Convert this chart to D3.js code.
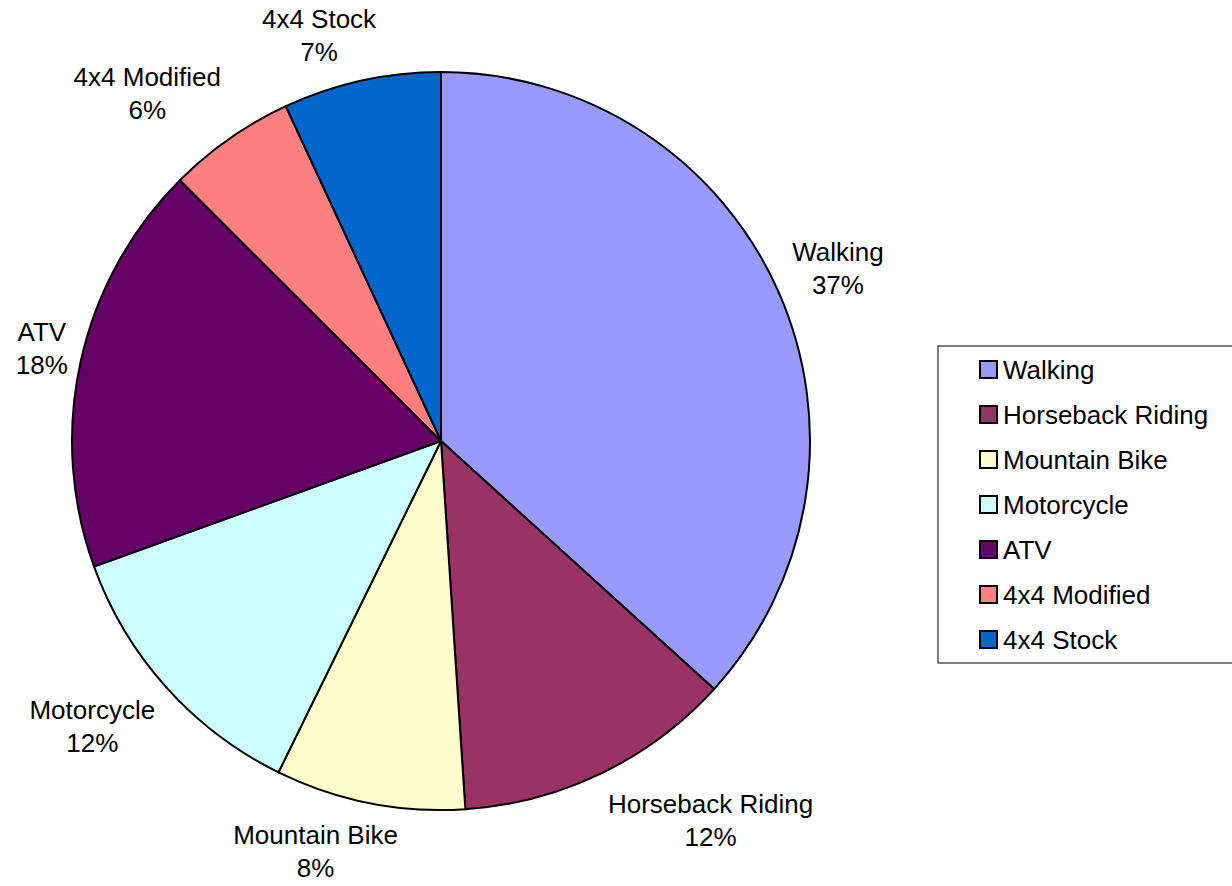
<!DOCTYPE html>
<html>
<head>
<meta charset="utf-8">
<script src="https://cdn.jsdelivr.net/npm/d3@7"></script>
<style>
  body { margin: 0; background: #fff; }
  text { font-family: "Liberation Sans", Arial, sans-serif; fill: #000; }
</style>
</head>
<body>
<svg id="pie" width="1232" height="886"></svg>
<script>
// trail use shares
var categories = ["Walking", "Horseback Riding", "Mountain Bike", "Motorcycle", "ATV", "4x4 Modified", "4x4 Stock"];
var values = [36.7, 12.2, 8.3, 12.2, 18.0, 5.6, 6.9];
var colors = ["#9999FF", "#993366", "#FFFFCC", "#CCFFFF", "#660066", "#FF8080", "#0066CC"];

var svg = d3.select("#pie"),
    cx = 441,
    cy = 441,
    radius = 369,
    fontSize = 26,
    lineH = 33;

var data = categories.map(function(c, i) {
    return { name: c, value: values[i], color: colors[i] };
});
var total = d3.sum(values);
var fmt = function(v) { return Math.round(v / total * 100) + "%"; };

var pie = d3.pie()
    .sort(null)
    .value(function(d) { return d.value; });

var arc = d3.arc()
    .innerRadius(0)
    .outerRadius(radius);

var arcs = pie(data);

var g = svg.append("g")
    .attr("transform", "translate(" + cx + "," + cy + ")");

g.selectAll("path.slice")
    .data(arcs)
    .enter().append("path")
    .attr("class", "slice")
    .attr("d", arc)
    .attr("fill", function(d) { return d.data.color; })
    .attr("stroke", "#000")
    .attr("stroke-width", 2)
    .attr("stroke-linejoin", "round");

// labels outside the pie: the box corner nearest the centre sits near the mid angle
var labels = g.selectAll("g.label")
    .data(arcs)
    .enter().append("g")
    .attr("class", "label");

labels.append("text")
    .attr("class", "name")
    .attr("text-anchor", "middle")
    .style("font-size", fontSize + "px")
    .text(function(d) { return d.data.name; });

labels.append("text")
    .attr("class", "pct")
    .attr("text-anchor", "middle")
    .style("font-size", fontSize + "px")
    .attr("y", lineH)
    .text(function(d) { return fmt(d.data.value); });

var clamp = function(v) { return Math.max(-1, Math.min(1, v)); };

labels.each(function(d) {
    var sel = d3.select(this);
    var w = sel.select("text.name").node().getComputedTextLength();
    var h = lineH * 2;
    var a = (d.startAngle + d.endAngle) / 2;
    var ux = Math.sin(a), uy = -Math.cos(a);
    var r = radius + 15;
    var bx = ux * r + clamp(3.2 * ux) * w / 2;
    var by = uy * r + clamp(1.3 * uy) * h / 2;
    // keep the box inside the picture
    by = Math.max(h / 2 + 2 - cy, Math.min(886 - 2 - h / 2 - cy, by));
    sel.attr("transform", "translate(" + bx + "," + (by - lineH / 2 + fontSize * 0.36) + ")");
});

// legend
var legend = svg.append("g")
    .attr("transform", "translate(938,346)");

legend.append("rect")
    .attr("width", 320)
    .attr("height", 317)
    .attr("fill", "#fff")
    .attr("stroke", "#000")
    .attr("stroke-width", 1);

var row = d3.scalePoint()
    .domain(categories)
    .range([24, 294]);

var item = legend.selectAll("g.item")
    .data(data)
    .enter().append("g")
    .attr("class", "item")
    .attr("transform", function(d) { return "translate(0," + row(d.name) + ")"; });

item.append("rect")
    .attr("x", 42)
    .attr("y", -9)
    .attr("width", 17)
    .attr("height", 17)
    .attr("fill", function(d) { return d.color; })
    .attr("stroke", "#000")
    .attr("stroke-width", 2);

item.append("text")
    .attr("x", 65)
    .attr("y", 9)
    .style("font-size", fontSize + "px")
    .text(function(d) { return d.name; });
</script>
</body>
</html>
